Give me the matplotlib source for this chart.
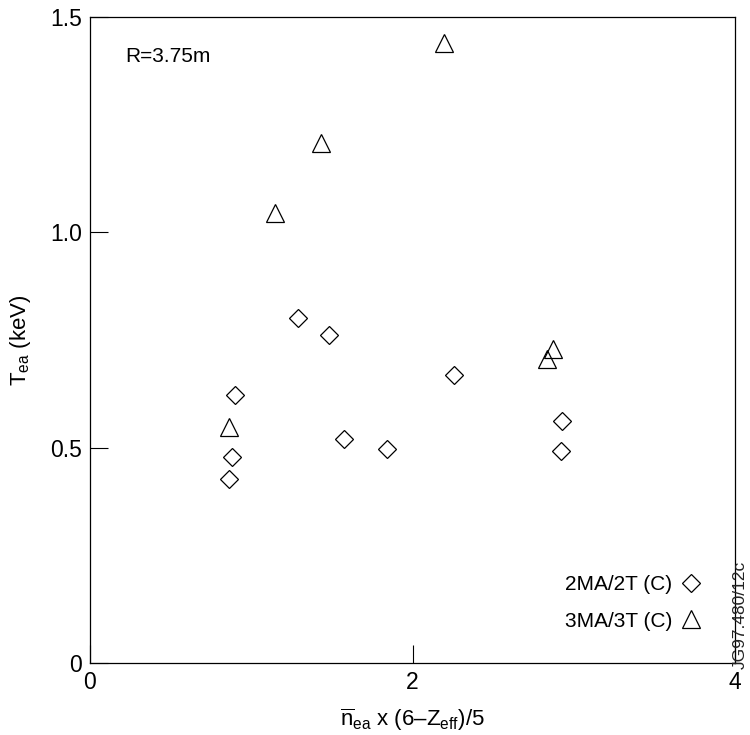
import matplotlib
matplotlib.use('Agg')
import matplotlib.pyplot as plt

# 2MA/2T (C) series (diamonds)
d_x = [0.862, 0.881, 0.899, 1.292, 1.482, 1.577, 1.844, 2.259, 2.925, 2.919]
d_y = [0.428, 0.479, 0.621, 0.800, 0.761, 0.519, 0.497, 0.668, 0.561, 0.491]

# 3MA/3T (C) series (triangles)
t_x = [0.862, 1.150, 1.431, 2.195, 2.837, 2.871]
t_y = [0.547, 1.044, 1.207, 1.440, 0.706, 0.729]

x_ticks = [0, 2, 4]
x_ticklabels = ['0', '2', '4']
y_ticks = [0, 0.5, 1.0, 1.5]
y_ticklabels = ['0', '0.5', '1.0', '1.5']

labels = ['2MA/2T (C)', '3MA/3T (C)']

plt.rcParams['font.family'] = ['Liberation Sans', 'DejaVu Sans']
plt.rcParams['mathtext.fontset'] = 'custom'
plt.rcParams['mathtext.rm'] = 'Liberation Sans'
plt.rcParams['mathtext.it'] = 'Liberation Sans:italic'
plt.rcParams['mathtext.bf'] = 'Liberation Sans:bold'

fig = plt.figure(figsize=(7.5, 7.35), dpi=100)
ax = fig.add_axes([0.12, 0.098, 0.86, 0.879])

h1, = ax.plot(d_x, d_y, linestyle='none', marker='D', markersize=9.4,
              markerfacecolor='white', markeredgecolor='black', markeredgewidth=0.9)
h2, = ax.plot(t_x, t_y, linestyle='none', marker='^', markersize=13.2,
              markerfacecolor='none', markeredgecolor='black', markeredgewidth=0.9)

ax.set_xlim(0, 4)
ax.set_ylim(0, 1.5)
ax.set_xticks(x_ticks)
ax.set_xticklabels(x_ticklabels)
ax.set_yticks(y_ticks)
ax.set_yticklabels(y_ticklabels)
ax.tick_params(direction='in', length=13, width=0.8, labelsize=16.5)
ax.tick_params(axis='x', pad=6)
ax.tick_params(axis='y', pad=6)
for s in ax.spines.values():
    s.set_linewidth(0.9)

ax.set_xlabel(r'$\overline{\mathrm{n}}_{\mathrm{ea}}$ x (6–Z$_{\mathrm{eff}}$)/5', fontsize=16, labelpad=9)
ax.set_ylabel(r'T$_{\mathrm{ea}}$ (keV)', fontsize=16, labelpad=12)

ax.text(0.054, 0.930, 'R=3.75m', transform=ax.transAxes, fontsize=15,
        ha='left', va='baseline')

ax.legend([h1, h2], labels, loc='lower right', bbox_to_anchor=(0.948, 0.050),
          frameon=False, markerfirst=False, fontsize=15, handlelength=1.0,
          handletextpad=0.4, labelspacing=0.85, borderpad=0, borderaxespad=0)

fig.text(0.987, 0.0898, 'JG97.480/12c', rotation=90, fontsize=12.5, color='#222222',
         ha='center', va='bottom')

fig.savefig('out.png', dpi=100)
